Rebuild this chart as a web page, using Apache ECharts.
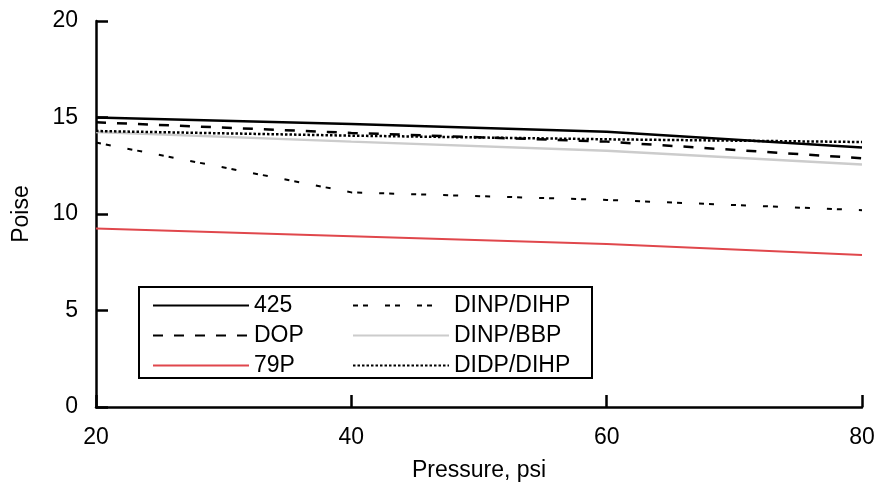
<!DOCTYPE html>
<html>
<head>
<meta charset="utf-8">
<script src="https://cdn.jsdelivr.net/npm/echarts@6/dist/echarts.min.js"></script>
<style>
  html, body { margin: 0; padding: 0; background: #fff; }
  #chart { width: 886px; height: 489px; }
</style>
</head>
<body>
<div id="chart"></div>
<script>
// Viscosity (poise) against pressure (psi) for six plasticizer formulations
const pressure = [20, 40, 60, 80];
const s425 = [15.0, 14.66, 14.26, 13.45];
const sDOP = [14.75, 14.2, 13.75, 12.89];
const s79P = [9.25, 8.85, 8.45, 7.87];
const sDINP_DIHP = [13.7, 11.12, 10.73, 10.2];
const sDINP_BBP = [14.25, 13.75, 13.28, 12.57];
const sDIDP_DIHP = [14.3, 14.06, 13.87, 13.73];
const yTicks = [0, 5, 10, 15, 20];
const xTicks = [20, 40, 60, 80];

const FONT = 'Liberation Sans, Arial, sans-serif';
const FS = 23;

function pairs(vals) {
  return pressure.map((p, i) => [p, vals[i]]);
}

function lineSeries(name, vals, color, width, type) {
  return {
    name: name,
    type: 'line',
    data: pairs(vals),
    symbol: 'none',
    smooth: false,
    lineStyle: { color: color, width: width, type: type },
    itemStyle: { color: color },
    emphasis: { disabled: true },
    animation: false
  };
}

const chart = echarts.init(document.getElementById('chart'), null, { renderer: 'canvas' });

const legendText = { fontFamily: FONT, fontSize: FS, color: '#000' };

// Two legend columns, each a vertical stack; the shared frame is drawn separately
function legendBlock(names, left) {
  return {
    data: names,
    orient: 'vertical',
    left: left,
    top: 294,
    itemWidth: 96,
    itemHeight: 14,
    itemGap: 7,
    padding: 0,
    textStyle: legendText,
    itemStyle: { opacity: 0 },
    lineStyle: { width: 2 },
    selectedMode: false
  };
}

chart.setOption({
  backgroundColor: '#fff',
  animation: false,
  grid: { left: 96, right: 24, top: 21, bottom: 82 },
  xAxis: {
    type: 'value',
    min: xTicks[0],
    max: xTicks[xTicks.length - 1],
    interval: 20,
    name: 'Pressure, psi',
    nameLocation: 'middle',
    nameGap: 52,
    nameTextStyle: { fontFamily: FONT, fontSize: FS, color: '#000' },
    axisLine: { lineStyle: { color: '#000', width: 2.5 } },
    axisTick: { inside: true, length: 12, lineStyle: { color: '#000', width: 2.5 } },
    axisLabel: { fontFamily: FONT, fontSize: FS, color: '#000', margin: 19 },
    splitLine: { show: false }
  },
  yAxis: {
    type: 'value',
    min: yTicks[0],
    max: yTicks[yTicks.length - 1],
    interval: 5,
    name: 'Poise',
    nameLocation: 'middle',
    nameRotate: 90,
    nameGap: 63,
    nameTextStyle: { fontFamily: FONT, fontSize: FS, color: '#000' },
    axisLine: { show: true, lineStyle: { color: '#000', width: 2.5 } },
    axisTick: { show: true, inside: true, length: 12, lineStyle: { color: '#000', width: 2.5 } },
    axisLabel: { fontFamily: FONT, fontSize: FS, color: '#000', margin: 18 },
    splitLine: { show: false }
  },
  legend: [
    legendBlock(['425', 'DOP', '79P'], 152),
    legendBlock(['DINP/DIHP', 'DINP/BBP', 'DIDP/DIHP'], 352)
  ],
  graphic: [
    {
      type: 'rect',
      shape: { x: 139, y: 287, width: 453, height: 91 },
      style: { fill: 'none', stroke: '#000', lineWidth: 2 },
      z: 100
    }
  ],
  series: [
    lineSeries('425', s425, '#000000', 2.5, 'solid'),
    lineSeries('DOP', sDOP, '#000000', 2.5, [10, 11]),
    lineSeries('79P', s79P, '#e0474c', 2, 'solid'),
    lineSeries('DINP/DIHP', sDINP_DIHP, '#000000', 2, [5, 5, 5, 17]),
    lineSeries('DINP/BBP', sDINP_BBP, '#cccccc', 2.5, 'solid'),
    lineSeries('DIDP/DIHP', sDIDP_DIHP, '#000000', 2.5, [2.5, 2])
  ]
});
</script>
</body>
</html>
